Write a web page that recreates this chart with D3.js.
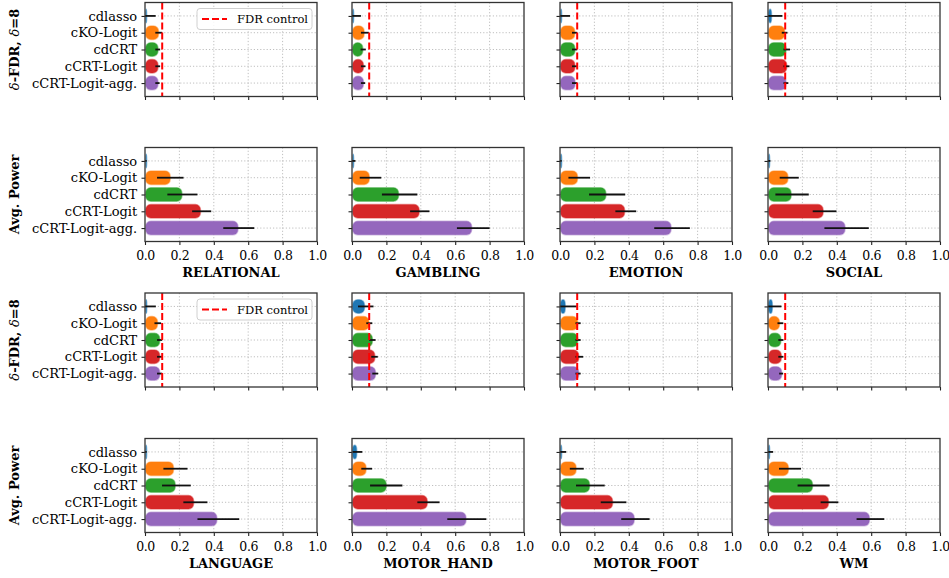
<!DOCTYPE html>
<html>
<head>
<meta charset="utf-8">
<script src="https://cdn.jsdelivr.net/npm/d3@7"></script>
<style>
  html, body { margin: 0; padding: 0; background: #fff; }
  svg { display: block; font-family: "DejaVu Serif", serif; }
</style>
</head>
<body>
<svg id="chart" width="949" height="578"></svg>
<script>
// Methods compared on each task (one bar per method)
const methods = ["cdlasso", "cKO-Logit", "cdCRT", "cCRT-Logit", "cCRT-Logit-agg."];
const colors = ["#1f77b4", "#ff7f0e", "#2ca02c", "#d62728", "#9467bd"];

// Task groups: the top block and the bottom block of panels
const tasksTop = ["RELATIONAL", "GAMBLING", "EMOTION", "SOCIAL"];
const tasksBottom = ["LANGUAGE", "MOTOR_HAND", "MOTOR_FOOT", "WM"];

const xTicks = [0.0, 0.2, 0.4, 0.6, 0.8, 1.0];
const fdrTarget = 0.1;

// delta-FDR per task: mean and confidence interval bounds, in method order
const fdrMean = {
  RELATIONAL: [0.005, 0.078, 0.075, 0.075, 0.075],
  GAMBLING:   [0.004, 0.070, 0.062, 0.066, 0.066],
  EMOTION:    [0.004, 0.085, 0.086, 0.086, 0.087],
  SOCIAL:     [0.020, 0.096, 0.104, 0.108, 0.104],
  LANGUAGE:   [0.010, 0.072, 0.085, 0.085, 0.085],
  MOTOR_HAND: [0.072, 0.098, 0.118, 0.132, 0.136],
  MOTOR_FOOT: [0.030, 0.102, 0.102, 0.108, 0.108],
  WM:         [0.025, 0.066, 0.074, 0.077, 0.079]
};
const fdrLo = {
  RELATIONAL: [0.000, 0.060, 0.060, 0.060, 0.060],
  GAMBLING:   [0.000, 0.052, 0.050, 0.052, 0.052],
  EMOTION:    [0.000, 0.070, 0.070, 0.070, 0.070],
  SOCIAL:     [0.000, 0.080, 0.090, 0.090, 0.090],
  LANGUAGE:   [0.000, 0.055, 0.070, 0.070, 0.070],
  MOTOR_HAND: [0.035, 0.083, 0.100, 0.112, 0.118],
  MOTOR_FOOT: [0.000, 0.090, 0.090, 0.090, 0.090],
  WM:         [0.000, 0.055, 0.060, 0.060, 0.065]
};
const fdrHi = {
  RELATIONAL: [0.062, 0.100, 0.088, 0.088, 0.085],
  GAMBLING:   [0.052, 0.098, 0.080, 0.078, 0.076],
  EMOTION:    [0.058, 0.100, 0.100, 0.100, 0.100],
  SOCIAL:     [0.084, 0.113, 0.128, 0.125, 0.118],
  LANGUAGE:   [0.063, 0.093, 0.100, 0.100, 0.100],
  MOTOR_HAND: [0.125, 0.118, 0.137, 0.150, 0.152],
  MOTOR_FOOT: [0.097, 0.120, 0.120, 0.135, 0.120],
  WM:         [0.078, 0.089, 0.090, 0.090, 0.088]
};

// Average power per task: mean and confidence interval bounds
const powerMean = {
  RELATIONAL: [0.004, 0.146, 0.214, 0.322, 0.540],
  GAMBLING:   [0.003, 0.100, 0.270, 0.390, 0.695],
  EMOTION:    [0.003, 0.101, 0.266, 0.375, 0.645],
  SOCIAL:     [0.003, 0.115, 0.134, 0.320, 0.447],
  LANGUAGE:   [0.003, 0.165, 0.175, 0.282, 0.417],
  MOTOR_HAND: [0.027, 0.081, 0.198, 0.437, 0.662],
  MOTOR_FOOT: [0.003, 0.093, 0.171, 0.305, 0.431],
  WM:         [0.003, 0.118, 0.258, 0.351, 0.589]
};
const powerLo = {
  RELATIONAL: [0.000, 0.070, 0.130, 0.274, 0.455],
  GAMBLING:   [0.000, 0.045, 0.174, 0.338, 0.610],
  EMOTION:    [0.000, 0.049, 0.169, 0.322, 0.548],
  SOCIAL:     [0.000, 0.068, 0.043, 0.260, 0.328],
  LANGUAGE:   [0.000, 0.107, 0.099, 0.223, 0.305],
  MOTOR_HAND: [0.003, 0.054, 0.105, 0.380, 0.554],
  MOTOR_FOOT: [0.000, 0.057, 0.093, 0.237, 0.356],
  WM:         [0.000, 0.064, 0.172, 0.306, 0.515]
};
const powerHi = {
  RELATIONAL: [0.010, 0.224, 0.305, 0.385, 0.635],
  GAMBLING:   [0.020, 0.170, 0.380, 0.450, 0.800],
  EMOTION:    [0.010, 0.175, 0.379, 0.443, 0.755],
  SOCIAL:     [0.014, 0.179, 0.237, 0.398, 0.586],
  LANGUAGE:   [0.010, 0.247, 0.266, 0.363, 0.548],
  MOTOR_HAND: [0.060, 0.117, 0.293, 0.509, 0.781],
  MOTOR_FOOT: [0.036, 0.138, 0.260, 0.386, 0.521],
  WM:         [0.030, 0.192, 0.358, 0.409, 0.676]
};

// Layout of the 4x4 grid of panels
const colLeft = [145, 352, 560, 768];
const panelW = 172;
const rowTop = [2.5, 147.5, 293, 438.5];
const panelH = 94;

const svg = d3.select("#chart");

function drawPanel(col, row, task, kind, showLegend) {
  const left = colLeft[col], top = rowTop[row];
  const x = d3.scaleLinear().domain([0, 1]).range([left, left + panelW]);
  const y = d3.scaleLinear().domain([-0.8, 4.8]).range([top, top + panelH]);
  const bandH = 0.8 * (y(1) - y(0));
  const g = svg.append("g");

  const mean = kind === "fdr" ? fdrMean[task] : powerMean[task];
  const lo = kind === "fdr" ? fdrLo[task] : powerLo[task];
  const hi = kind === "fdr" ? fdrHi[task] : powerHi[task];

  // dotted grid
  g.selectAll(".gx").data(xTicks.slice(1, -1)).join("line")
    .attr("x1", d => x(d)).attr("x2", d => x(d))
    .attr("y1", top).attr("y2", top + panelH)
    .attr("stroke", "#b8b8b8").attr("stroke-width", 0.9).attr("stroke-dasharray", "1.2,2");
  g.selectAll(".gy").data(methods).join("line")
    .attr("x1", left).attr("x2", left + panelW)
    .attr("y1", (d, i) => y(i)).attr("y2", (d, i) => y(i))
    .attr("stroke", "#b8b8b8").attr("stroke-width", 0.9).attr("stroke-dasharray", "1.2,2");

  // bars with rounded ends
  g.selectAll(".bar").data(mean).join("rect")
    .attr("x", x(0) + 0.8)
    .attr("y", (d, i) => y(i) - bandH / 2)
    .attr("width", d => Math.max(0.8, x(d) - x(0) - 0.8))
    .attr("height", bandH)
    .attr("rx", d => Math.min(5, Math.max(0.4, (x(d) - x(0)) / 2)))
    .attr("ry", 5)
    .attr("fill", (d, i) => colors[i])
    .attr("stroke", (d, i) => colors[i])
    .attr("stroke-opacity", 0.45)
    .attr("stroke-width", 1.6);

  // confidence intervals
  g.selectAll(".err").data(mean).join("line")
    .attr("x1", (d, i) => x(lo[i])).attr("x2", (d, i) => x(hi[i]))
    .attr("y1", (d, i) => y(i)).attr("y2", (d, i) => y(i))
    .attr("stroke", "#111").attr("stroke-width", 1.8);

  if (kind === "fdr") {
    g.append("line")
      .attr("x1", x(fdrTarget)).attr("x2", x(fdrTarget))
      .attr("y1", top).attr("y2", top + panelH)
      .attr("stroke", "#ff0000").attr("stroke-width", 2)
      .attr("stroke-dasharray", "7,3");
  }

  // axes
  const yAxis = d3.axisLeft(y).tickValues([0, 1, 2, 3, 4]).tickSize(3.5).tickSizeOuter(0)
    .tickFormat(i => col === 0 ? methods[i] : "");
  const ya = g.append("g").attr("transform", `translate(${left},0)`).call(yAxis);
  ya.select(".domain").remove();
  ya.selectAll("text").attr("font-size", 13).attr("fill", "#000").attr("font-family", "DejaVu Serif").attr("dx", "-0.1em");
  ya.selectAll("line").attr("stroke", "#222").attr("stroke-width", 1.1);

  const xAxis = d3.axisBottom(x).tickValues(xTicks).tickSize(3.5).tickSizeOuter(0)
    .tickFormat(kind === "power" ? d3.format(".1f") : () => "");
  const xa = g.append("g").attr("transform", `translate(0,${top + panelH})`).call(xAxis);
  xa.select(".domain").remove();
  xa.selectAll("text").attr("font-size", 12.5).attr("letter-spacing", "-0.4px")
    .attr("fill", "#000").attr("font-family", "DejaVu Serif").attr("dy", "0.95em");
  xa.selectAll("line").attr("stroke", "#222").attr("stroke-width", 1.1);

  // frame
  g.append("rect").attr("x", left).attr("y", top).attr("width", panelW).attr("height", panelH)
    .attr("fill", "none").attr("stroke", "#333").attr("stroke-width", 1.3);

  if (kind === "power") {
    g.append("text").attr("x", left + panelW / 2).attr("y", top + panelH + 35.5)
      .attr("text-anchor", "middle").attr("font-weight", "bold").attr("font-size", 13)
      .text(task);
  }

  if (showLegend) {
    const lg = g.append("g").attr("transform", `translate(${left + 52},${top + 6})`);
    lg.append("rect").attr("width", 115).attr("height", 21).attr("rx", 3)
      .attr("fill", "#fff").attr("fill-opacity", 0.85).attr("stroke", "#d0d0d0");
    lg.append("line").attr("x1", 5).attr("x2", 30).attr("y1", 10.5).attr("y2", 10.5)
      .attr("stroke", "#ff0000").attr("stroke-width", 2).attr("stroke-dasharray", "7,3");
    lg.append("text").attr("x", 40).attr("y", 14.8).attr("font-size", 11.5).text("FDR control");
  }
}

[tasksTop, tasksBottom].forEach((tasks, block) => {
  tasks.forEach((task, col) => {
    drawPanel(col, block * 2, task, "fdr", col === 0);
    drawPanel(col, block * 2 + 1, task, "power", false);
  });
  // row labels
  const fdrCenter = rowTop[block * 2] + panelH / 2;
  const lab = svg.append("text")
    .attr("transform", `translate(19,${fdrCenter}) rotate(-90)`)
    .attr("text-anchor", "middle").attr("font-size", 13);
  lab.append("tspan").attr("font-style", "italic").text("δ");
  lab.append("tspan").attr("font-weight", "bold").text("-FDR, ");
  lab.append("tspan").attr("font-style", "italic").text("δ");
  lab.append("tspan").attr("font-weight", "bold").text("=8");

  const powCenter = rowTop[block * 2 + 1] + panelH / 2;
  svg.append("text")
    .attr("transform", `translate(19,${powCenter}) rotate(-90)`)
    .attr("text-anchor", "middle").attr("font-size", 13).attr("font-weight", "bold")
    .text("Avg. Power");
});
</script>
</body>
</html>
